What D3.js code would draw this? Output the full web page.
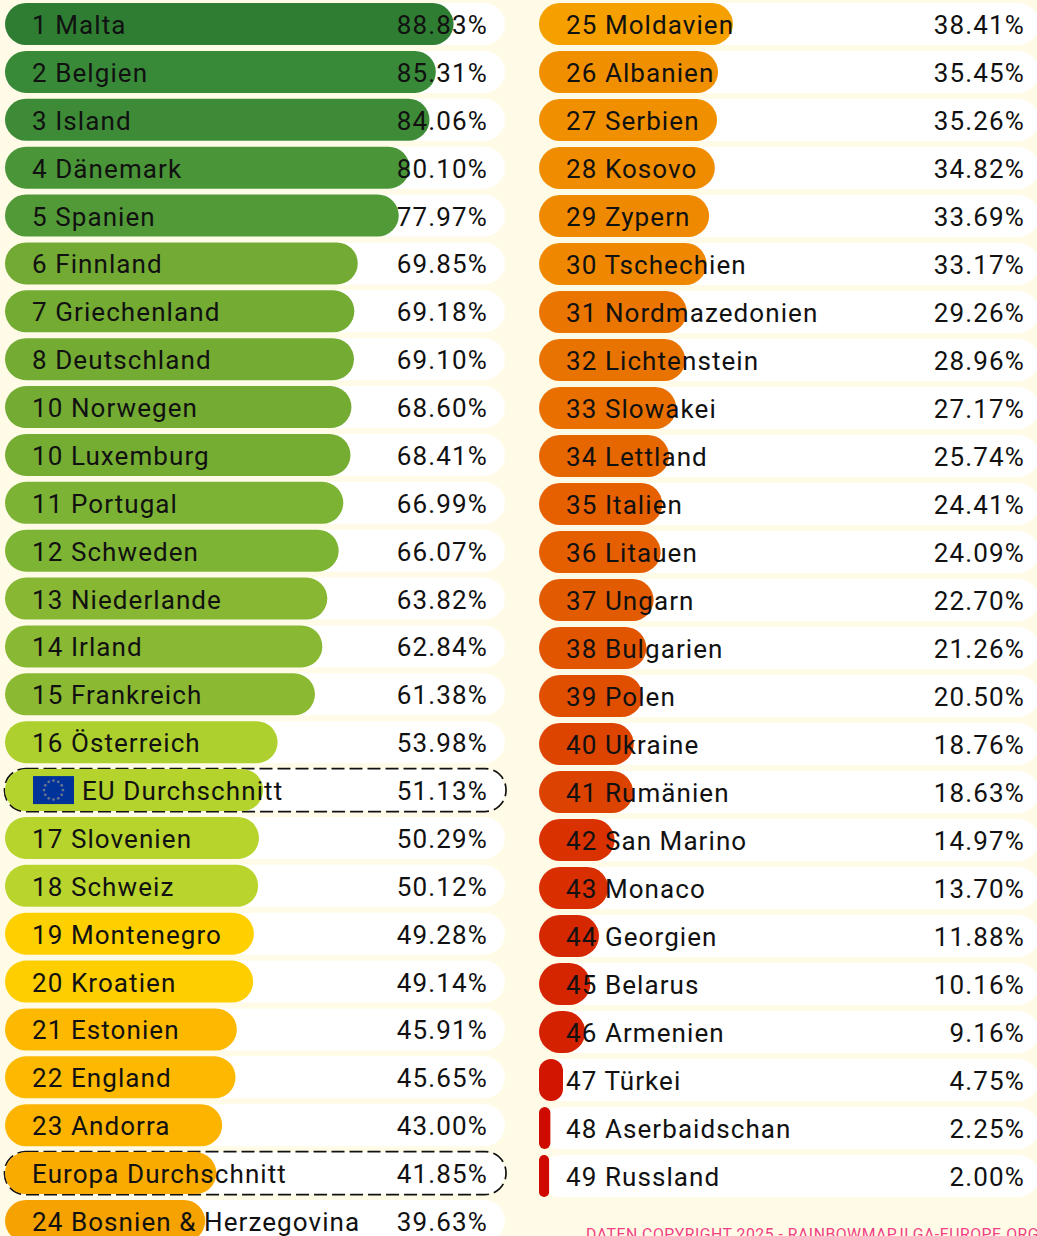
<!DOCTYPE html>
<html>
<head>
<meta charset="utf-8">
<title>Rainbow Map</title>
<style>
  html, body { margin: 0; padding: 0; background: #fffbe6; overflow: hidden; }
  svg { display: block; }
  text { font-family: Roboto, sans-serif; }
  .label { font-size: 26px; letter-spacing: 1.08px; fill: #111; }
  .value { font-size: 26px; letter-spacing: 1.15px; fill: #111; }
  .footer { font-size: 15.8px; letter-spacing: .5px; fill: #f23f85; }
</style>
</head>
<body>
<div id="chart"></div>
<script src="https://cdnjs.cloudflare.com/ajax/libs/d3/7.8.5/d3.min.js"></script>
<script>
  const leftLabels = ["1 Malta","2 Belgien","3 Island","4 Dänemark","5 Spanien","6 Finnland","7 Griechenland","8 Deutschland","10 Norwegen","10 Luxemburg","11 Portugal","12 Schweden","13 Niederlande","14 Irland","15 Frankreich","16 Österreich","EU Durchschnitt","17 Slovenien","18 Schweiz","19 Montenegro","20 Kroatien","21 Estonien","22 England","23 Andorra","Europa Durchschnitt","24 Bosnien & Herzegovina"]
  const leftValues = [88.83,85.31,84.06,80.10,77.97,69.85,69.18,69.10,68.60,68.41,66.99,66.07,63.82,62.84,61.38,53.98,51.13,50.29,50.12,49.28,49.14,45.91,45.65,43.00,41.85,39.63]
  const leftColors = ["#2e7d32","#388a38","#3d8b37","#4a9537","#529a37","#72aa33","#73ab33","#73ab33","#74ac33","#75ad33","#7cb335","#7eb434","#87b733","#89b833","#8cb932","#add02e","#b5d32d","#b7d42d","#b9d52d","#ffd000","#ffce00","#fdb900","#fdb800","#fcb400","#f9ab00","#f6a200"]

  const rightLabels = ["25 Moldavien","26 Albanien","27 Serbien","28 Kosovo","29 Zypern","30 Tschechien","31 Nordmazedonien","32 Lichtenstein","33 Slowakei","34 Lettland","35 Italien","36 Litauen","37 Ungarn","38 Bulgarien","39 Polen","40 Ukraine","41 Rumänien","42 San Marino","43 Monaco","44 Georgien","45 Belarus","46 Armenien","47 Türkei","48 Aserbaidschan","49 Russland"]
  const rightValues = [38.41,35.45,35.26,34.82,33.69,33.17,29.26,28.96,27.17,25.74,24.41,24.09,22.70,21.26,20.50,18.76,18.63,14.97,13.70,11.88,10.16,9.16,4.75,2.25,2.00]
  const rightColors = ["#f6a000","#f09000","#f09000","#f08c00","#ef8900","#ef8800","#ea7500","#e97300","#e86f00","#e66600","#e66000","#e55e00","#e35b00","#e25500","#e04e00","#dd4400","#dc4200","#d93100","#d82e00","#d62800","#d52500","#d42200","#d11500","#cf0b00","#cf0900"]

  const averageRows = ["EU Durchschnitt", "Europa Durchschnitt"]
  const footerText = "DATEN COPYRIGHT 2025 - RAINBOWMAP.ILGA-EUROPE.ORG"

  const width = 1037
  const height = 1236
  const rowHeight = 42
  const trackWidth = 500

  const svg = d3.select("#chart").append("svg")
    .attr("width", width)
    .attr("height", height)

  // Same percent to pixel scale for both columns
  const xScale = d3.scaleLinear().domain([0, 100]).range([0, 505])

  function drawColumn(labels, values, colors, left, firstTop, lastTop, valueRight) {
    const yScale = d3.scalePoint()
      .domain(labels)
      .range([firstTop, lastTop])

    const rows = d3.zip(labels, values, colors)
      .map(d => ({ label: d[0], value: d[1], color: d[2] }))

    const g = svg.append("g").attr("transform", "translate(" + left + ",0)")

    const row = g.selectAll("g.row")
      .data(rows)
      .join("g")
      .attr("class", "row")
      .attr("transform", d => "translate(0," + yScale(d.label) + ")")

    // white track
    row.append("rect")
      .attr("width", trackWidth)
      .attr("height", rowHeight)
      .attr("rx", 21)
      .attr("fill", "#ffffff")

    // dashed outline for the two average rows
    row.filter(d => averageRows.includes(d.label))
      .append("rect")
      .attr("x", -0.5)
      .attr("y", -0.5)
      .attr("width", trackWidth + 1.5)
      .attr("height", rowHeight + 1)
      .attr("rx", 21)
      .attr("fill", "none")
      .attr("stroke", "#111")
      .attr("stroke-width", 1.7)
      .attr("stroke-dasharray", "13 5")

    // value bar
    row.append("rect")
      .attr("width", d => xScale(d.value))
      .attr("height", rowHeight)
      .attr("rx", d => Math.min(21, xScale(d.value) / 2))
      .attr("ry", d => Math.min(21, xScale(d.value) / 2))
      .attr("fill", d => d.color)

    row.append("text")
      .attr("class", "label")
      .attr("x", d => d.label === "EU Durchschnitt" ? 77 : 27)
      .attr("y", 31)
      .text(d => d.label)

    row.append("text")
      .attr("class", "value")
      .attr("x", valueRight)
      .attr("y", 31)
      .attr("text-anchor", "end")
      .text(d => d.value.toFixed(2) + "%")

    // EU flag
    const flag = row.filter(d => d.label === "EU Durchschnitt")
      .append("g")
      .attr("transform", "translate(28,7)")

    flag.append("rect")
      .attr("width", 41)
      .attr("height", 28)
      .attr("fill", "#003399")

    flag.selectAll("circle")
      .data(d3.range(12))
      .join("circle")
      .attr("cx", i => 20.5 + 9.5 * Math.cos(i * Math.PI / 6))
      .attr("cy", i => 14 + 9.5 * Math.sin(i * Math.PI / 6))
      .attr("r", 1.4)
      .attr("fill", "#6a7390")
  }

  drawColumn(leftLabels, leftValues, leftColors, 5, 3, 1200, 483)
  drawColumn(rightLabels, rightValues, rightColors, 539, 3, 1155, 486)

  svg.append("text")
    .attr("class", "footer")
    .attr("x", 586)
    .attr("y", 1240)
    .text(footerText)
</script>
</body>
</html>
